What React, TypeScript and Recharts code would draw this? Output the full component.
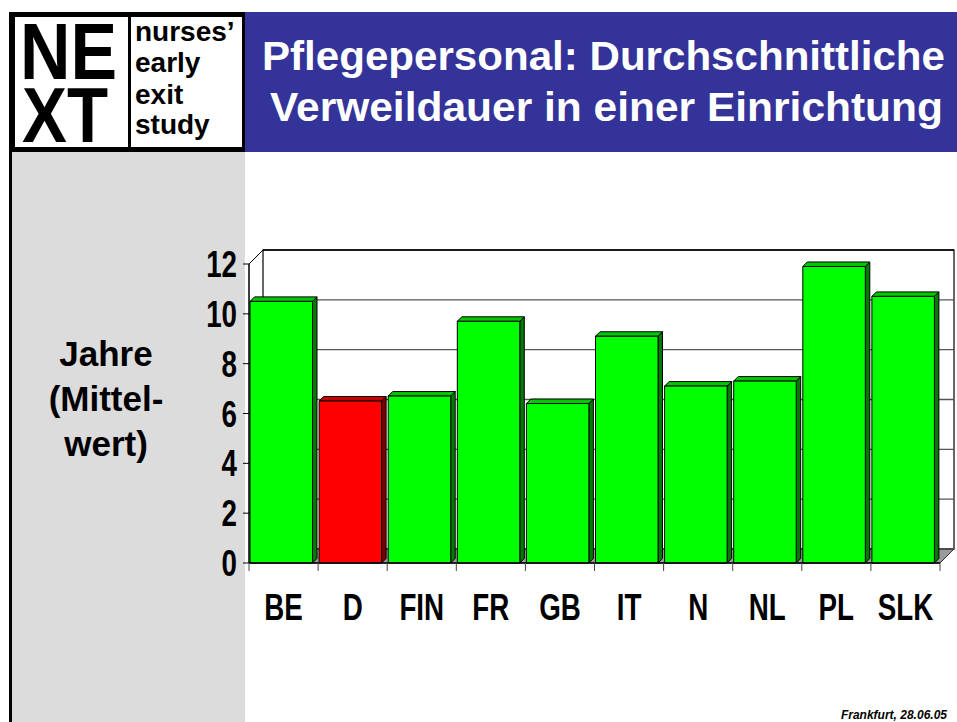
import React from 'react';
import { BarChart, Bar, XAxis, YAxis, CartesianGrid, Cell } from 'recharts';

// Data
const countries = ['BE', 'D', 'FIN', 'FR', 'GB', 'IT', 'N', 'NL', 'PL', 'SLK'];
const years = [10.5, 6.5, 6.7, 9.7, 6.4, 9.1, 7.1, 7.3, 11.9, 10.7];
const yTicks = [0, 2, 4, 6, 8, 10, 12];
const highlight = 'D';

const chartData = countries.map((c, i) => ({ country: c, years: years[i] }));

// Layout of the slide
const W = 957;
const H = 722;
const PLOT_LEFT = 249;
const PLOT_RIGHT = 940;
const PLOT_TOP = 264;
const PLOT_BOTTOM = 563;
const WALL = 14; // depth of the 3d back wall
const BAR_DEPTH = 4.5;
const Y_AXIS_W = 60;
const X_AXIS_H = 60;
const FONT = '"Liberation Sans", Arial, sans-serif';

const colors: Record<string, string[]> = {
  green: ['#00ff00', '#00c800', '#007a00'],
  red: ['#ff0000', '#c80000', '#7a0000'],
};

const Bar3D = (props: any) => {
  const { x, y, width, height, fill } = props;
  if (!height || height <= 0) return null;
  const [front, top, side] = fill === 'red' ? colors.red : colors.green;
  const d = BAR_DEPTH;
  const fw = width - d;
  return (
    <g stroke="#000" strokeWidth={1} strokeLinejoin="round">
      <polygon
        points={`${x + fw},${y} ${x + width},${y - d} ${x + width},${y + height - d} ${x + fw},${y + height}`}
        fill={side}
      />
      <polygon points={`${x},${y} ${x + d},${y - d} ${x + width},${y - d} ${x + fw},${y}`} fill={top} />
      <rect x={x} y={y} width={fw} height={height} fill={front} />
    </g>
  );
};

// gridlines sit on the back wall, joined to the front axis by a diagonal
const gridLine = (props: any) => {
  const { x1, y1, x2, y2 } = props;
  const isTop = Math.abs(y1 - PLOT_TOP) < 1;
  const stroke = isTop ? '#000' : '#555';
  return (
    <g key={props.key ?? `g-${y1}`}>
      <line x1={x1 + WALL} y1={y1 - WALL} x2={x2 + WALL} y2={y2 - WALL} stroke={stroke} strokeWidth={1.3} />
      <line x1={x1} y1={y1} x2={x1 + WALL} y2={y1 - WALL} stroke={stroke} strokeWidth={1} />
    </g>
  );
};

const YTick = (props: any) => {
  const { x, y, payload } = props;
  return (
    <text
      transform={`translate(${x},${y + 13}) scale(0.75,1)`}
      textAnchor="end"
      fontFamily={FONT}
      fontWeight="bold"
      fontSize={37}
      fill="#000"
    >
      {payload.value}
    </text>
  );
};

const XTick = (props: any) => {
  const { x, y, payload, index } = props;
  const half = payload.offset ?? (PLOT_RIGHT - PLOT_LEFT) / countries.length / 2;
  return (
    <g>
      <line x1={x - half} y1={y} x2={x - half} y2={y + 8} stroke="#444" strokeWidth={1} />
      {index === countries.length - 1 && (
        <line x1={x + half} y1={y} x2={x + half} y2={y + 8} stroke="#444" strokeWidth={1} />
      )}
      <text
        transform={`translate(${x},${y + 57}) scale(0.75,1)`}
        textAnchor="middle"
        fontFamily={FONT}
        fontWeight="bold"
        fontSize={37}
        fill="#000"
      >
        {payload.value}
      </text>
    </g>
  );
};

const Slide = () => (
  <svg width={W} height={H} style={{ position: 'absolute', left: 0, top: 0 }}>
    <rect x={0} y={0} width={W} height={H} fill="#fff" />
    <rect x={12} y={152} width={233} height={H - 152} fill="#dcdcdc" />
    <rect x={9} y={12} width={3} height={H - 12} fill="#000" />
    <rect x={244} y={12} width={W - 244} height={140} fill="#333399" />

    {/* logo */}
    <rect x={9} y={12} width={236} height={140} fill="#000" />
    <rect x={15} y={17} width={113} height={130} fill="#fff" />
    <rect x={131} y={17} width={111} height={130} fill="#fff" />
    <g fontFamily={FONT} fontWeight="bold" fill="#000">
      <text>
        <tspan x={20} y={79} fontSize={80} textLength={97} lengthAdjust="spacingAndGlyphs">NE</tspan>
        <tspan x={22} y={142} fontSize={77} textLength={86} lengthAdjust="spacingAndGlyphs">XT</tspan>
      </text>
      <text x={135} y={41} fontSize={28}>nurses’</text>
      <text x={135} y={72} fontSize={28}>early</text>
      <text x={135} y={104} fontSize={28}>exit</text>
      <text x={135} y={134} fontSize={28}>study</text>
    </g>

    {/* title */}
    <g fontFamily={FONT} fontWeight="bold" fill="#fff" fontSize={40}>
      <text x={262} y={70} textLength={683} lengthAdjust="spacingAndGlyphs">Pflegepersonal: Durchschnittliche</text>
      <text x={270} y={121} textLength={673} lengthAdjust="spacingAndGlyphs">Verweildauer in einer Einrichtung</text>
    </g>

    {/* y axis title */}
    <g fontFamily={FONT} fontWeight="bold" fill="#000" fontSize={35} textAnchor="middle">
      <text x={106} y={366}>Jahre</text>
      <text x={106} y={411}>(Mittel-</text>
      <text x={106} y={456}>wert)</text>
    </g>

    {/* 3d walls and floor */}
    <polygon
      points={`${PLOT_LEFT},${PLOT_BOTTOM} ${PLOT_LEFT + WALL},${PLOT_BOTTOM - WALL} ${PLOT_RIGHT + WALL},${PLOT_BOTTOM - WALL} ${PLOT_RIGHT},${PLOT_BOTTOM}`}
      fill="#9a9a9a"
      stroke="#333"
      strokeWidth={1}
    />
    <rect
      x={PLOT_LEFT + WALL}
      y={PLOT_TOP - WALL}
      width={PLOT_RIGHT - PLOT_LEFT}
      height={PLOT_BOTTOM - PLOT_TOP}
      fill="none"
      stroke="#000"
      strokeWidth={1.2}
    />

    <text
      x={947}
      y={719}
      textAnchor="end"
      fontFamily={FONT}
      fontWeight="bold"
      fontStyle="italic"
      fontSize={12}
      fill="#000"
    >
      Frankfurt, 28.06.05
    </text>
  </svg>
);

export default function App() {
  return (
    <div style={{ position: 'absolute', left: 0, top: 0, width: W, height: H }}>
      <Slide />
      <div style={{ position: 'absolute', left: 0, top: 0 }}>
        <BarChart
          width={W}
          height={H}
          data={chartData}
          barCategoryGap={1}
          margin={{
            top: PLOT_TOP,
            right: W - PLOT_RIGHT,
            bottom: H - PLOT_BOTTOM - X_AXIS_H,
            left: PLOT_LEFT - Y_AXIS_W,
          }}
        >
          <CartesianGrid vertical={false} horizontal={gridLine} />
          <XAxis
            dataKey="country"
            height={X_AXIS_H}
            axisLine={{ stroke: '#000', strokeWidth: 1.5 }}
            tickLine={false}
            tickSize={0}
            tickMargin={0}
            interval={0}
            tick={<XTick />}
          />
          <YAxis
            width={Y_AXIS_W}
            domain={[0, 12]}
            ticks={yTicks}
            interval={0}
            axisLine={{ stroke: '#000', strokeWidth: 1.5 }}
            tickLine={{ stroke: '#000' }}
            tickSize={6}
            tickMargin={6}
            tick={<YTick />}
          />
          <Bar dataKey="years" shape={<Bar3D />} isAnimationActive={false}>
            {chartData.map((d, i) => (
              <Cell key={`cell-${i}`} fill={d.country === highlight ? 'red' : 'green'} />
            ))}
          </Bar>
        </BarChart>
      </div>
    </div>
  );
}
